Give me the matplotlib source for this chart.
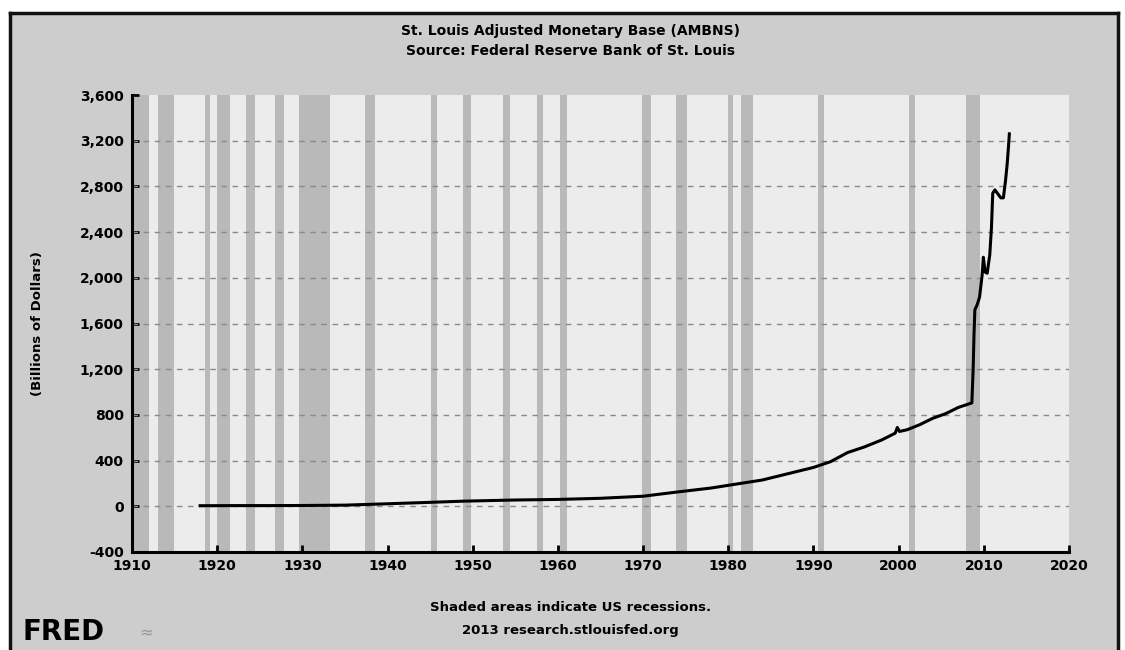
import matplotlib
matplotlib.use("Agg")
import matplotlib.pyplot as plt

# St. Louis Adjusted Monetary Base (AMBNS), billions of dollars
years = [1918, 1922, 1926, 1930, 1935, 1940, 1944, 1949, 1955, 1960, 1965,
         1970, 1974, 1978, 1981, 1984, 1987, 1990, 1992, 1994, 1996, 1998,
         1999.6, 1999.85, 2000.1, 2001, 2002.5, 2004, 2005.5, 2007, 2008.6,
         2008.75, 2008.85, 2008.95, 2009.2, 2009.5, 2009.8, 2009.95, 2010.15,
         2010.4, 2010.7, 2010.9, 2011.05, 2011.3, 2011.7, 2012.0, 2012.3,
         2012.55, 2012.75, 2012.9, 2013.0]
amb = [5, 6, 6, 7, 10, 22, 32, 45, 55, 60, 70,
       88, 125, 160, 195, 230, 285, 340, 390, 470, 520, 580,
       640, 690, 655, 670, 715, 770, 810, 865, 905,
       1200, 1500, 1720, 1760, 1830, 2020, 2180, 2050,
       2040, 2200, 2440, 2740, 2770, 2730, 2700, 2700,
       2850, 3000, 3150, 3260]

# NBER recessions (start, end)
recessions = [(1910.0, 1912.0), (1913.0, 1914.95), (1918.6, 1919.2), (1920.0, 1921.5),
              (1923.4, 1924.5), (1926.8, 1927.9), (1929.6, 1933.2), (1937.4, 1938.5),
              (1945.1, 1945.8), (1948.9, 1949.8), (1953.5, 1954.4), (1957.6, 1958.3),
              (1960.3, 1961.1), (1969.9, 1970.9), (1973.9, 1975.2), (1980.0, 1980.5),
              (1981.5, 1982.9), (1990.5, 1991.2), (2001.2, 2001.9), (2007.9, 2009.5)]

x_ticks = list(range(1910, 2021, 10))
y_ticks = list(range(-400, 3601, 400))
y_labels = ["{:,}".format(v) for v in y_ticks]

fig = plt.figure(figsize=(11.25, 6.5), dpi=100)
fig.patch.set_facecolor("white")

# grey scanned panel with a black frame
panel = fig.add_axes([0.009, -0.01, 0.985, 0.99])
panel.set_facecolor("#cdcdcd")
panel.set_xticks([])
panel.set_yticks([])
for s in panel.spines.values():
    s.set_linewidth(2.5)
    s.set_color("#111111")

ax = fig.add_axes([0.1173, 0.1508, 0.8329, 0.703])
ax.set_facecolor("#ececec")

for a, b in recessions:
    ax.axvspan(a, b, color="#b9b9b9", lw=0, zorder=1)

for v in y_ticks[1:-1]:
    ax.axhline(v, color="#8a8a8a", lw=1, ls=(0, (4, 4)), zorder=2)

ax.plot(years, amb, color="black", lw=2.2, zorder=3)

ax.set_xlim(1910, 2020)
ax.set_ylim(-400, 3600)
ax.set_xticks(x_ticks)
ax.set_xticklabels([str(t) for t in x_ticks], fontsize=10, fontweight="bold")
ax.set_yticks(y_ticks)
ax.set_yticklabels(y_labels, fontsize=10, fontweight="bold")
ax.tick_params(direction="in", length=5, width=2, color="black", pad=5)
ax.tick_params(axis="y", pad=6)

for side in ["top", "right"]:
    ax.spines[side].set_visible(False)
for side in ["left", "bottom"]:
    ax.spines[side].set_linewidth(2.2)
    ax.spines[side].set_color("black")

ax.set_ylabel("(Billions of Dollars)", fontsize=9.5, fontweight="bold", labelpad=26)

fig.text(0.507, 0.952, "St. Louis Adjusted Monetary Base (AMBNS)", ha="center",
         va="center", fontsize=10, fontweight="bold")
fig.text(0.507, 0.921, "Source: Federal Reserve Bank of St. Louis", ha="center",
         va="center", fontsize=10, fontweight="bold")
fig.text(0.507, 0.066, "Shaded areas indicate US recessions.", ha="center",
         va="center", fontsize=9.5, fontweight="bold")
fig.text(0.507, 0.030, "2013 research.stlouisfed.org", ha="center",
         va="center", fontsize=9.5, fontweight="bold")
fig.text(0.020, 0.027, "FRED", ha="left", va="center", fontsize=20,
         fontweight="black", color="black")
fig.text(0.124, 0.027, "≈", ha="left", va="center", fontsize=12, color="#999999")

fig.savefig("out.png", dpi=100)
